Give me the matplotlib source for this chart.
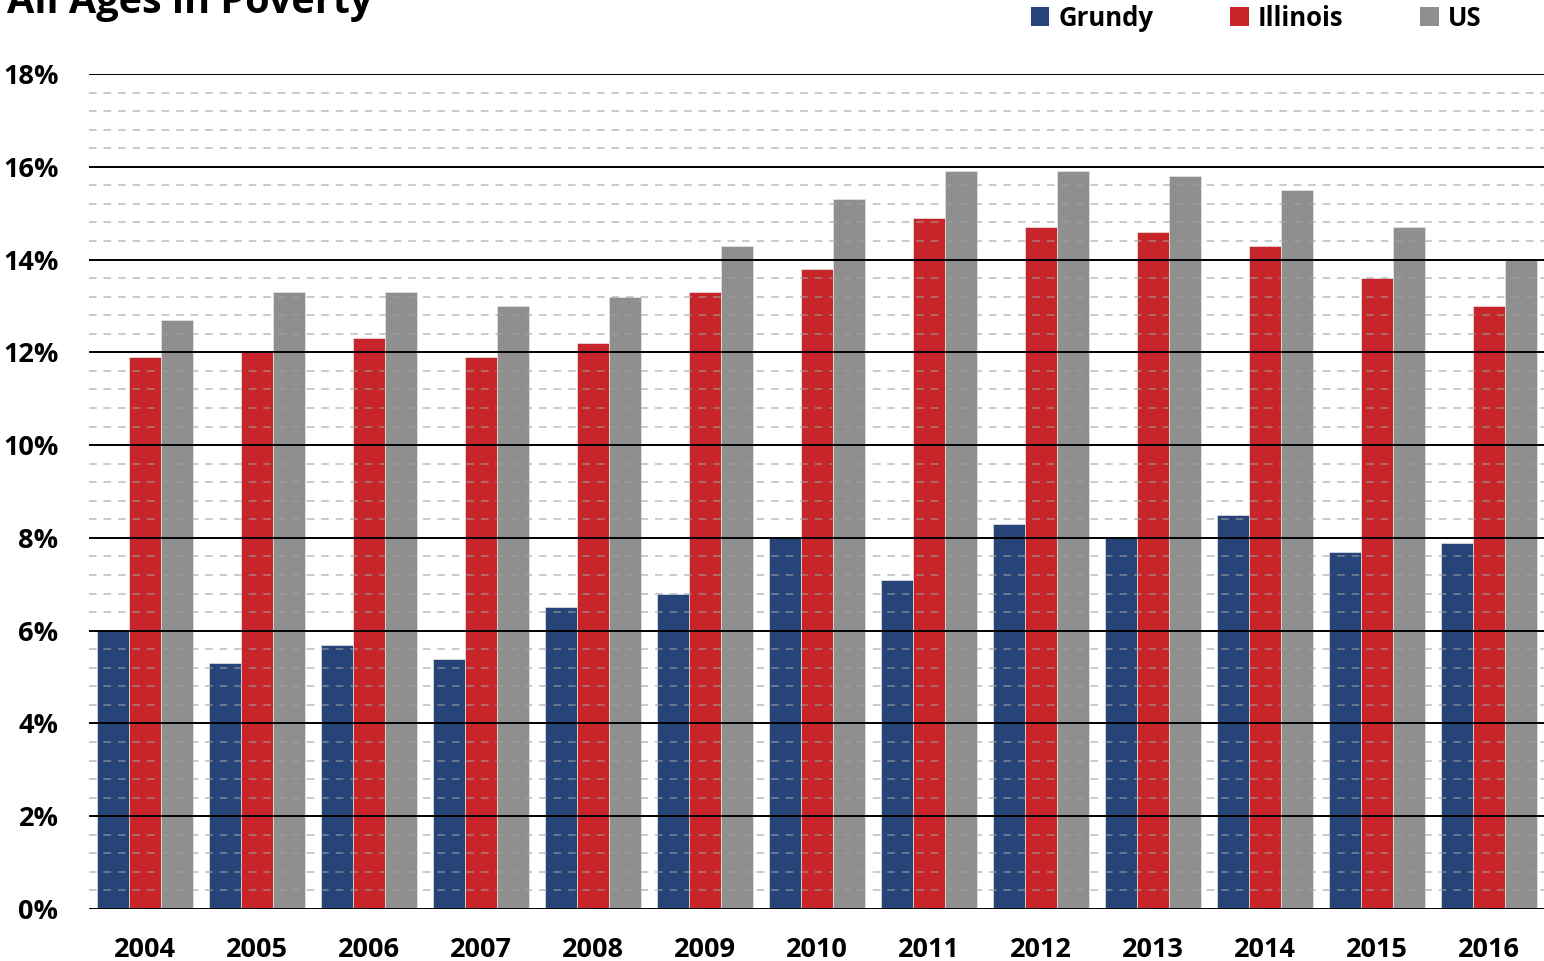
import numpy as np
import matplotlib
matplotlib.use("Agg")
import matplotlib.pyplot as plt
from matplotlib.patches import Patch
from matplotlib.ticker import MultipleLocator, PercentFormatter

years = ["2004", "2005", "2006", "2007", "2008", "2009", "2010",
         "2011", "2012", "2013", "2014", "2015", "2016"]
grundy = [6.0, 5.3, 5.7, 5.4, 6.5, 6.8, 8.0, 7.1, 8.3, 8.0, 8.5, 7.7, 7.9]
illinois = [11.9, 12.0, 12.3, 11.9, 12.2, 13.3, 13.8, 14.9, 14.7, 14.6, 14.3, 13.6, 13.0]
us = [12.7, 13.3, 13.3, 13.0, 13.2, 14.3, 15.3, 15.9, 15.9, 15.8, 15.5, 14.7, 14.0]

series = [("Grundy", grundy, "#264478"),
          ("Illinois", illinois, "#C8252A"),
          ("US", us, "#8F8F8F")]

plt.rcParams['font.family'] = ['Open Sans', 'DejaVu Sans']
plt.rcParams['font.weight'] = 'bold'

fig = plt.figure(figsize=(15.44, 9.61), dpi=100)
ax = fig.add_axes([89 / 1544, 52 / 961, 1456 / 1544, 835 / 961])

x = np.arange(len(years))
width = 0.2857
for i, (name, vals, color) in enumerate(series):
    ax.bar(x + (i - 1) * width, vals, width, color=color,
           edgecolor='#E6E6E6', linewidth=0.5, zorder=1)

ax.set_xlim(-0.5, len(years) - 0.5)
ax.set_ylim(0, 18)
ax.yaxis.set_major_locator(MultipleLocator(2))
ax.yaxis.set_minor_locator(MultipleLocator(0.4))
ax.yaxis.set_major_formatter(PercentFormatter(decimals=0))

# grid sits on top of the bars like in the original
ax.set_axisbelow(False)
ax.yaxis.grid(True, which='major', color='black', linewidth=1.4, zorder=3)
ax.yaxis.grid(True, which='minor', color='#A0A0A0', linewidth=1.1,
              linestyle=(0, (5, 4.5)), alpha=0.7, zorder=3)

for s in ax.spines.values():
    s.set_visible(False)

ax.set_xticks(x)
ax.set_xticklabels(years)
ax.tick_params(axis='both', which='both', length=0, labelsize=19.5)
ax.tick_params(axis='y', pad=22)
ax.tick_params(axis='x', pad=20)
for lab in ax.get_xticklabels() + ax.get_yticklabels():
    lab.set_fontweight('bold')

fig.text(7 / 1544, (961 - 13) / 961, "All Ages in Poverty", fontsize=28.5,
         fontweight='bold', ha='left', va='baseline')

handles = [Patch(facecolor=c, edgecolor='none', label=n) for n, _, c in series]
fig.legend(handles=handles, loc='center', ncol=3, frameon=False,
           bbox_to_anchor=(1256 / 1544, (961 - 18) / 961),
           prop={'size': 18.5, 'weight': 'bold'},
           handlelength=0.72, handleheight=0.72, handletextpad=0.35,
           columnspacing=3.0)

fig.savefig("out.png", dpi=100)
